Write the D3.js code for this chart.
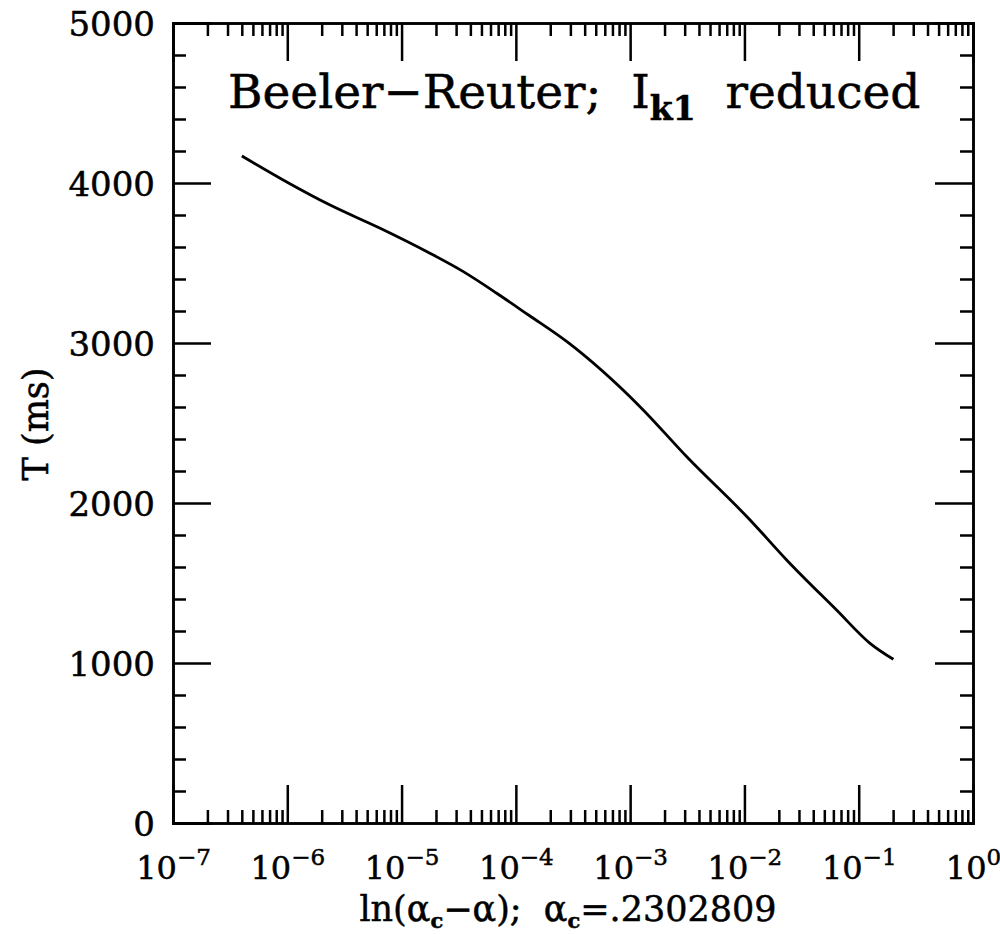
<!DOCTYPE html>
<html>
<head>
<meta charset="utf-8">
<script src="https://cdn.jsdelivr.net/npm/d3@7"></script>
<style>
    body { margin: 0; background: #fff; }
    svg { display: block; }
    text { font-family: "DejaVu Serif", serif; fill: #000; stroke: #000; stroke-width: 0.5; white-space: pre; }
    .axis path, .axis line { stroke: #000; stroke-width: 2.5; }
</style>
</head>
<body>
<svg id="chart"></svg>
<script>
// data
const alphaDiff = [4.0e-7, 9.2e-7, 2.37e-6, 6.5e-6, 1.77e-5, 3.47e-5, 6.8e-5, 1.29e-4,
    2.8e-4, 1.22e-3, 3.13e-3, 1.12e-2, 2.34e-2, 6.4e-2, 0.1256, 0.201];
const periodMs = [4169, 4019, 3862, 3717, 3561, 3446, 3311, 3175,
    3008, 2602, 2289, 1894, 1644, 1331, 1123, 1023];

// tick values / labels
const xMajorTicks = [1e-7, 1e-6, 1e-5, 1e-4, 1e-3, 1e-2, 1e-1, 1e0];
const xTickExps = ["−7", "−6", "−5", "−4", "−3", "−2", "−1", "0"];
const yMajorTicks = [0, 1000, 2000, 3000, 4000, 5000];
const yMinorTicks = [200, 400, 600, 800, 1200, 1400, 1600, 1800, 2200, 2400, 2600, 2800,
    3200, 3400, 3600, 3800, 4200, 4400, 4600, 4800];

const width = 1000, height = 934;
const margin = { top: 23, left: 173, right: 27, bottom: 111 };
const innerW = width - margin.left - margin.right;
const innerH = height - margin.top - margin.bottom;

const svg = d3.select("#chart").attr("width", width).attr("height", height);
const chart = svg.append("g").attr("transform", `translate(${margin.left},${margin.top})`);

const xScale = d3.scaleLog().domain([1e-7, 1]).range([0, innerW]);
const yScale = d3.scaleLinear().domain([0, 5000]).range([innerH, 0]);

// minor x ticks: 2..9 x 10^k
let xMinorTicks = [];
xMajorTicks.slice(0, -1).forEach(d => {
    for (let m = 2; m <= 9; m++) xMinorTicks.push(d * m);
});

function drawAxis(gen, cls, tx, ty) {
    return chart.append("g")
        .attr("class", "axis " + cls)
        .attr("transform", `translate(${tx},${ty})`)
        .call(gen);
}

// major + minor ticks on all four sides, pointing inward
const majorLen = 38, minorLen = 13;

drawAxis(d3.axisBottom(xScale).tickValues(xMinorTicks).tickSize(-minorLen).tickFormat(""), "x-minor", 0, innerH);
drawAxis(d3.axisTop(xScale).tickValues(xMinorTicks).tickSize(-minorLen).tickFormat(""), "x-minor-top", 0, 0);
drawAxis(d3.axisTop(xScale).tickValues(xMajorTicks).tickSize(-majorLen).tickFormat(""), "x-top", 0, 0);
const xAxisG = drawAxis(d3.axisBottom(xScale).tickValues(xMajorTicks).tickSize(-majorLen).tickSizeOuter(0).tickFormat(""), "x-axis", 0, innerH);

drawAxis(d3.axisLeft(yScale).tickValues(yMinorTicks).tickSize(-minorLen).tickFormat(""), "y-minor", 0, 0);
drawAxis(d3.axisRight(yScale).tickValues(yMinorTicks).tickSize(-minorLen).tickFormat(""), "y-minor-right", innerW, 0);
drawAxis(d3.axisRight(yScale).tickValues(yMajorTicks).tickSize(-majorLen).tickFormat(""), "y-right", innerW, 0);
const yAxisG = drawAxis(d3.axisLeft(yScale).tickValues(yMajorTicks).tickSize(-majorLen).tickFormat(""), "y-axis", 0, 0);

chart.selectAll(".axis path.domain").attr("stroke-linecap", "square");

// x tick labels with superscript exponents
xAxisG.selectAll(".tick").each(function(d, i) {
    const t = d3.select(this).append("text")
        .attr("y", 56)
        .attr("text-anchor", "middle")
        .style("font-size", "32px");
    t.append("tspan").text("10");
    t.append("tspan").attr("dy", -14).style("font-size", "23px").text(xTickExps[i]);
});

// y tick labels
yAxisG.selectAll(".tick").append("text")
    .attr("x", -18)
    .attr("dy", "0.36em")
    .attr("text-anchor", "end")
    .style("font-size", "34px")
    .text(d => d);

// curve
chart.append("path")
    .datum(alphaDiff.map((a, i) => [a, periodMs[i]]))
    .attr("fill", "none")
    .attr("stroke", "#000")
    .attr("stroke-width", 2.8)
    .attr("d", d3.line()
        .x(d => xScale(d[0]))
        .y(d => yScale(d[1]))
        .curve(d3.curveMonotoneX));

// title inside the frame
const title = svg.append("text")
    .attr("x", 228)
    .attr("y", 108)
    .style("font-size", "47px");
title.append("tspan").text("Beeler−Reuter;  I");
title.append("tspan").attr("dy", 12).style("font-size", "33px").style("font-weight", "bold").text("k1");
title.append("tspan").attr("dy", -12).text("  reduced");

// axis titles
const xTitle = svg.append("text")
    .attr("x", 568)
    .attr("y", 921)
    .attr("text-anchor", "middle")
    .style("font-size", "35px");
xTitle.append("tspan").text("ln(α");
xTitle.append("tspan").attr("dy", 7).style("font-size", "21px").style("font-weight", "bold").text("c");
xTitle.append("tspan").attr("dy", -7).text("−α);  α");
xTitle.append("tspan").attr("dy", 7).style("font-size", "21px").style("font-weight", "bold").text("c");
xTitle.append("tspan").attr("dy", -7).text("=.2302809");

svg.append("text")
    .attr("transform", "translate(48,424) rotate(-90)")
    .attr("text-anchor", "middle")
    .style("font-size", "35px")
    .text("T (ms)");
</script>
</body>
</html>
